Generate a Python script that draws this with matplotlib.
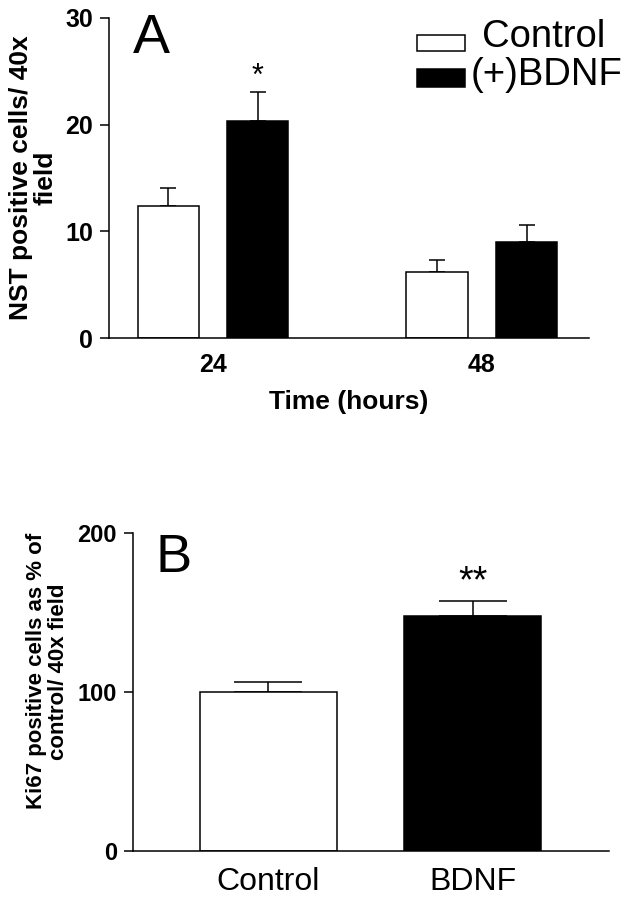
import numpy as np
import matplotlib
matplotlib.use("Agg")
from matplotlib import pyplot as plt
from matplotlib.patches import Rectangle

plt.rcParams['font.family'] = ['Liberation Sans', 'DejaVu Sans']

# Panel A: NST positive cells per 40x field
hours = ["24", "48"]
control_nst = [12.4, 6.2]
control_nst_sem = [1.7, 1.1]
bdnf_nst = [20.3, 9.0]
bdnf_nst_sem = [2.8, 1.6]

# Panel B: Ki67 positive cells as % of control
groups_b = ["Control", "BDNF"]
ki67_pct = [100, 148]
ki67_sem = [6.5, 9.2]

W, H = 634, 899
fig = plt.figure(figsize=(W / 100, H / 100), dpi=100)
ax_a = fig.add_axes([0.1719, 0.624, 0.757, 0.356])
ax_b = fig.add_axes([0.2098, 0.0534, 0.7508, 0.3537])

for ax in (ax_a, ax_b):
  ax.spines["top"].set_visible(False)
  ax.spines["right"].set_visible(False)
  ax.spines["left"].set_linewidth(1.1)
  ax.spines["bottom"].set_linewidth(1.1)
  ax.tick_params(axis="y", direction="out", length=6.5, width=1.1, pad=5)
  ax.tick_params(axis="x", length=0)

# --- Panel A ---
x = np.arange(len(hours))
offset = 0.167
width = 0.227
ax_a.bar(x - offset, control_nst, width, color="white", edgecolor="black", linewidth=1.1, zorder=2)
ax_a.bar(x + offset, bdnf_nst, width, color="black", edgecolor="black", linewidth=1.1, zorder=2)
ax_a.errorbar(x - offset, control_nst, yerr=[np.zeros(len(hours)), control_nst_sem], fmt="none",
              ecolor="black", elinewidth=1.1, capsize=6.1, capthick=1.1, zorder=1)
ax_a.errorbar(x + offset, bdnf_nst, yerr=[np.zeros(len(hours)), bdnf_nst_sem], fmt="none",
              ecolor="black", elinewidth=1.1, capsize=6.1, capthick=1.1, zorder=1)
ax_a.text(x[0] + offset, 23.7, "*", ha="center", va="baseline", fontsize=22)

ax_a.set_xlim(-0.387, 1.398)
ax_a.set_ylim(0, 30)
ax_a.set_yticks([0, 10, 20, 30])
ax_a.set_xticks(x)
ax_a.set_xticklabels(hours, fontsize=18, fontweight="bold")
ax_a.tick_params(axis="x", pad=11)
for lbl in ax_a.get_yticklabels():
  lbl.set_fontsize(18)
  lbl.set_fontweight("bold")
ax_a.set_ylabel("NST positive cells/ 40x\nfield", fontsize=19, fontweight="bold", linespacing=1.0)
ax_a.yaxis.set_label_coords(-0.108, 0.5)
ax_a.set_xlabel("Time (hours)", fontsize=19, fontweight="bold")
ax_a.xaxis.set_label_coords(0.5, -0.1625)

# Legend drawn by hand to match the box / text placement
fig.add_artist(Rectangle((417 / W, 1 - 51 / H), 48 / W, 16 / H, transform=fig.transFigure,
                         facecolor="white", edgecolor="black", linewidth=1.1))
fig.add_artist(Rectangle((417 / W, 1 - 87 / H), 48 / W, 18 / H, transform=fig.transFigure,
                         facecolor="black", edgecolor="black", linewidth=1.1))
fig.text(482 / W, 1 - 47 / H, "Control", fontsize=27.5, ha="left", va="baseline")
fig.text(471 / W, 1 - 85 / H, "(+)BDNF", fontsize=27.5, ha="left", va="baseline")

fig.text(133 / W, 1 - 13 / H, "A", fontsize=40, ha="left", va="top")

# --- Panel B ---
xb = np.arange(len(groups_b))
ax_b.bar(xb, ki67_pct, 0.671, color=["white", "black"], edgecolor="black", linewidth=1.1, zorder=2)
ax_b.errorbar(xb, ki67_pct, yerr=[np.zeros(len(groups_b)), ki67_sem], fmt="none",
              ecolor="black", elinewidth=1.1, capsize=24.5, capthick=1.1, zorder=1)
ax_b.text(xb[1], 163, "**", ha="center", va="baseline", fontsize=27)

ax_b.set_xlim(-0.664, 1.669)
ax_b.set_ylim(0, 200)
ax_b.set_yticks([0, 100, 200])
ax_b.set_xticks(xb)
ax_b.set_xticklabels(groups_b, fontsize=23)
ax_b.tick_params(axis="x", pad=11.5)
for lbl in ax_b.get_yticklabels():
  lbl.set_fontsize(17)
  lbl.set_fontweight("bold")
ax_b.set_ylabel("Ki67 positive cells as % of\ncontrol/ 40x field", fontsize=16, fontweight="bold", linespacing=1.05)
ax_b.yaxis.set_label_coords(-0.135, 0.565)

fig.text(155 / W, 1 - 533 / H, "B", fontsize=39, ha="left", va="top")

plt.savefig("out.png", dpi=100)
